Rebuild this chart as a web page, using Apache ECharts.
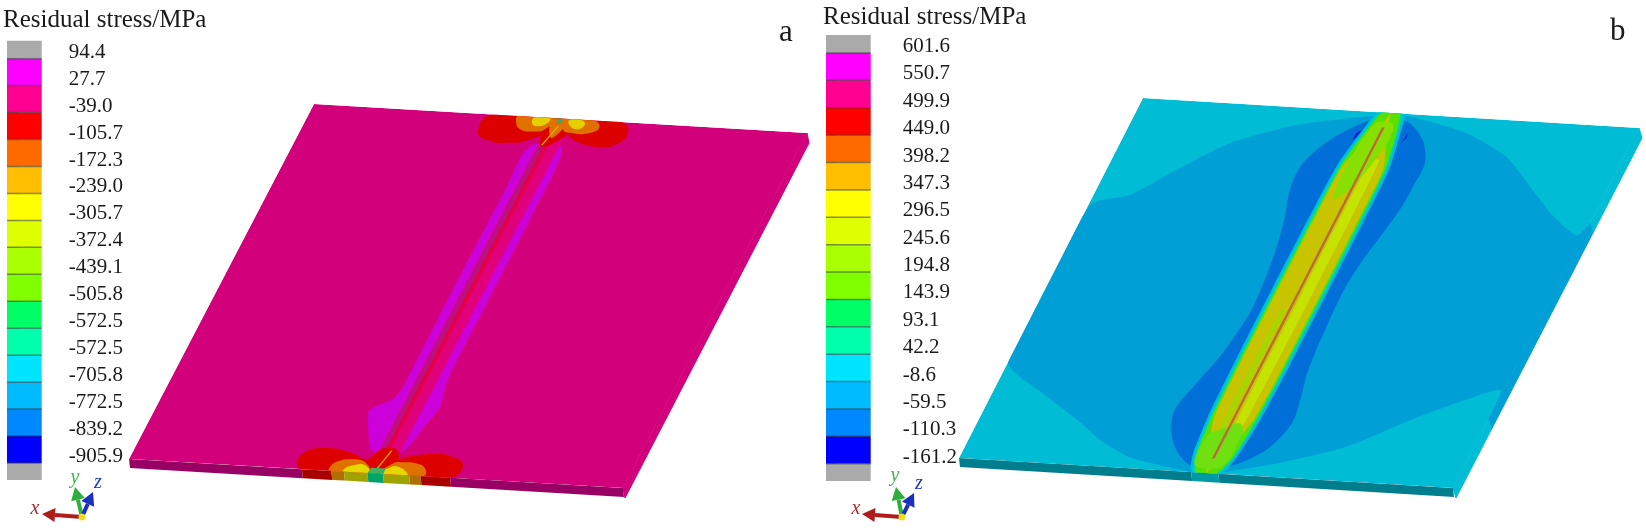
<!DOCTYPE html>
<html>
<head>
<meta charset="utf-8">
<title>Residual stress</title>
<script src="https://cdn.jsdelivr.net/npm/echarts@6/dist/echarts.min.js"></script>
<style>
html, body { margin: 0; padding: 0; background: #fff; }
#main { width: 1646px; height: 532px; }
</style>
</head>
<body>
<div id="main"></div>
<script>
// colour bar values, top to bottom
var ticksA = ['94.4', '27.7', '-39.0', '-105.7', '-172.3', '-239.0', '-305.7', '-372.4', '-439.1', '-505.8', '-572.5', '-572.5', '-705.8', '-772.5', '-839.2', '-905.9'];
var ticksB = ['601.6', '550.7', '499.9', '449.0', '398.2', '347.3', '296.5', '245.6', '194.8', '143.9', '93.1', '42.2', '-8.6', '-59.5', '-110.3', '-161.2'];
var bandEdges = [-0.66, 0, 1, 2, 3, 4, 5, 6, 7, 8, 9, 10, 11, 12, 13, 14, 15, 15.63];
var bandColors = ['#aaaaaa', '#ff00ff', '#ff0090', '#ff0000', '#ff6a00', '#ffbe00', '#ffff00', '#ddff00', '#aaff00', '#80ff00', '#00ff66', '#00ffaa', '#00e5ff', '#00bbff', '#0088ff', '#0000ff', '#aaaaaa'];

// contour outlines in plate coordinates: [u, v], u -1..1 across the weld, v 0..1 along it
var sheetFace = [[-1, 0], [1, 0], [1, 1], [-1, 1]];

// plate a
var magentaA = [[-0.065, 0.08], [-0.072, 0.2], [-0.074, 0.5], [-0.072, 0.7], [-0.08, 0.788], [-0.154, 0.827], [-0.135, 0.863], [-0.056, 0.941], [0.058, 0.937], [0.097, 0.854], [0.116, 0.808], [0.09, 0.733], [0.088, 0.5], [0.085, 0.25], [0.065, 0.08]];
var weldOuterA = [[-0.036, 0.05], [-0.034, 0.94], [0.052, 0.94], [0.052, 0.05]];
var weldDarkA = [[-0.032, 0.05], [-0.03, 0.94], [-0.008, 0.94], [-0.008, 0.05]];
var weldLineA = [[-0.01, 0.05], [-0.01, 0.94], [0.008, 0.94], [0.008, 0.05]];
var redTopLeftA = [[-0.28, 0], [-0.297, 0.05], [-0.231, 0.073], [-0.157, 0.075], [-0.094, 0.067], [-0.039, 0.043], [0, 0]];
var redTopMidA = [[-0.05, 0], [-0.045, 0.05], [-0.02, 0.08], [0.02, 0.07], [0.06, 0.04], [0.06, 0]];
var redTopRightA = [[0.04, 0], [0.056, 0.039], [0.127, 0.064], [0.202, 0.072], [0.269, 0.064], [0.296, 0.029], [0.25, 0]];
var orangeTopLeftA = [[-0.17, 0], [-0.168, 0.016], [-0.137, 0.036], [-0.08, 0.04], [-0.039, 0.032], [-0.02, 0]];
var orangeTopMidA = [[-0.03, 0], [-0.02, 0.035], [0.005, 0.055], [0.03, 0.03], [0.03, 0]];
var orangeTopRightA = [[0.02, 0], [0.033, 0.03], [0.08, 0.038], [0.146, 0.035], [0.171, 0.018], [0.137, 0]];
var yellowTopLeftA = [[-0.105, 0.002], [-0.098, 0.02], [-0.065, 0.024], [-0.04, 0.012], [-0.04, 0.002]];
var yellowTopRightA = [[0.04, 0.002], [0.047, 0.016], [0.086, 0.027], [0.109, 0.014], [0.09, 0.002]];
var greenTopA = [[-0.012, 0], [-0.004, 0.012], [0.008, 0.012], [0.012, 0]];
var streakTopA = [[0.004, 0.02], [-0.022, 0.075], [-0.016, 0.075], [0.01, 0.02]];
var redBotLeftA = [[-0.296, 1], [-0.335, 0.981], [-0.323, 0.953], [-0.261, 0.939], [-0.168, 0.943], [-0.087, 0.96], [-0.055, 0.969], [-0.02, 1]];
var redBotMidA = [[-0.06, 1], [-0.055, 0.955], [-0.02, 0.93], [0.03, 0.93], [0.06, 0.955], [0.07, 1]];
var redBotRightA = [[0.03, 1], [0.059, 0.96], [0.172, 0.938], [0.255, 0.94], [0.325, 0.963], [0.299, 1]];
var orangeBotLeftA = [[-0.19, 1], [-0.194, 0.99], [-0.179, 0.974], [-0.118, 0.965], [-0.058, 0.974], [-0.03, 1]];
var orangeBotRightA = [[0.02, 1], [0.047, 0.969], [0.084, 0.965], [0.139, 0.966], [0.182, 0.978], [0.192, 1]];
var yellowBotLeftA = [[-0.135, 1], [-0.135, 0.994], [-0.117, 0.984], [-0.06, 0.979], [-0.03, 1]];
var yellowBotRightA = [[0.02, 1], [0.047, 0.98], [0.073, 0.978], [0.12, 0.993], [0.125, 1]];
var greenBotA = [[-0.035, 1], [-0.03, 0.985], [0.028, 0.985], [0.03, 1]];
var streakBotA = [[-0.008, 0.985], [0.012, 0.935], [0.018, 0.935], [-0.002, 0.985]];
var frontStopsA = [-1, -0.3, -0.181, -0.13, -0.035, 0.028, 0.134, 0.18, 0.3, 1];
var frontColorsA = ['#980064', '#a80000', '#b07000', '#a0a400', '#00a468', '#a0a400', '#b07000', '#a80000', '#980064'];
var rightStopsA = [0, 1];
var rightColorsA = ['#d2007a'];

// plate b
var midZoneB = [[-0.993, 0.297], [-0.857, 0.2635], [-0.715, 0.182], [-0.57, 0.107], [-0.344, 0.047], [-0.064, 0.011], [0.069, 0.0055], [0.337, 0.042], [0.542, 0.1], [0.709, 0.184], [0.838, 0.249], [0.975, 0.3], [1, 0.265], [1, 0.727], [1, 0.81], [0.988, 0.728], [0.848, 0.768], [0.721, 0.814], [0.496, 0.907], [0.266, 0.961], [0.061, 0.995], [-0.06, 0.999], [-0.143, 0.992], [-0.333, 0.97], [-0.484, 0.928], [-0.598, 0.883], [-0.789, 0.816], [-1, 0.733]];
var darkZoneB = [[-0.056, 0.022], [-0.138, 0.053], [-0.21, 0.104], [-0.248, 0.16], [-0.241, 0.224], [-0.207, 0.297], [-0.178, 0.38], [-0.159, 0.47], [-0.151, 0.562], [-0.177, 0.674], [-0.219, 0.76], [-0.251, 0.835], [-0.223, 0.89], [-0.163, 0.943], [-0.072, 0.983], [0.067, 0.981], [0.189, 0.928], [0.237, 0.851], [0.22, 0.78], [0.199, 0.725], [0.182, 0.632], [0.174, 0.457], [0.229, 0.26], [0.234, 0.195], [0.233, 0.129], [0.179, 0.068], [0.081, 0.021]];
var crescentLeftB = [[-0.078, 0.05], [-0.098, 0.06], [-0.095, 0.08], [-0.085, 0.065]];
var crescentRightB = [[0.105, 0.05], [0.112, 0.065], [0.098, 0.08], [0.104, 0.065]];
var weldStations = [0, 0.05, 0.15, 0.3, 0.5, 0.7, 0.85, 0.95, 1];
var cyanHalfB = [0.055, 0.076, 0.106, 0.111, 0.112, 0.111, 0.106, 0.09, 0.06];
var tealHalfB = [0.045, 0.066, 0.097, 0.102, 0.103, 0.102, 0.097, 0.081, 0.05];
var greenHalfB = [0.035, 0.06, 0.09, 0.095, 0.096, 0.095, 0.09, 0.075, 0.04];
var oliveHalfB = [0, 0.02, 0.082, 0.088, 0.089, 0.088, 0.08, 0.03, 0];
var greenEndTopB = [[-0.04, 0.03], [-0.07, 0.16], [-0.05, 0.24], [0, 0.2], [0.045, 0.08], [0.03, 0.03]];
var greenEndBotB = [[-0.06, 0.98], [-0.07, 0.9], [-0.03, 0.88], [0.03, 0.86], [0.06, 0.88], [0.05, 0.98]];
var limeRightB = [[0.016, 0.13], [0.014, 0.5], [0.018, 0.88], [0.05, 0.86], [0.056, 0.5], [0.05, 0.13]];
var limeLeftB = [[-0.036, 0.55], [-0.038, 0.9], [-0.016, 0.9], [-0.016, 0.55]];
var weldLineB = [[-0.006, 0.04], [-0.006, 0.96], [0.004, 0.96], [0.004, 0.04]];
var frontStopsB = [-1, -0.06, 0.05, 1];
var frontColorsB = ['#007e8e', '#009aa4', '#007e8e'];
var rightStopsB = [0, 0.265, 0.81, 1];
var rightColorsB = ['#00bcd4', '#009fd6', '#00bcd4'];

var plateA = { tl: [314, 104], tr: [807, 133], bl: [129, 459], br: [623, 488] };
var plateB = { tl: [1143, 98], tr: [1639, 128], bl: [959, 458], br: [1453, 488] };

// strip around the weld, from half widths at each station
function weldBand(halves) {
    var left = [], right = [];
    for (var i = 0; i < weldStations.length; i++) {
        left.push([-halves[i], weldStations[i]]);
        right.unshift([halves[i], weldStations[i]]);
    }
    return left.concat(right);
}

// front face of the sheet, one quad per colour stop
function frontFace(stops, colors, drop) {
    var out = [];
    for (var i = 0; i < colors.length; i++) {
        out.push({ pts: [[stops[i], 1], [stops[i + 1], 1]], color: colors[i], drop: drop });
    }
    return out;
}

// sliver down the right edge
function rightFace(stops, colors, drop) {
    var out = [];
    for (var i = 0; i < colors.length; i++) {
        out.push({ pts: [[1, stops[i]], [1, stops[i + 1]]], color: colors[i], drop: drop, seam: true });
    }
    return out;
}

var layersA = [{ pts: sheetFace, color: '#d2007a' }]
    .concat(rightFace(rightStopsA, rightColorsA, [2, 10]))
    .concat(frontFace(frontStopsA, frontColorsA, [1, 9]))
    .concat([
        { pts: magentaA, color: '#cc00d8', smooth: 0.3 },
        { pts: weldOuterA, color: '#e0007c' },
        { pts: weldDarkA, color: '#ba1080' },
        { pts: weldLineA, color: '#e40048' },
        { pts: redTopLeftA, color: '#dd0000', smooth: 0.5 },
        { pts: redTopRightA, color: '#dd0000', smooth: 0.5 },
        { pts: redTopMidA, color: '#dd0000', smooth: 0.3 },
        { pts: orangeTopLeftA, color: '#e07000', smooth: 0.5 },
        { pts: orangeTopRightA, color: '#e07000', smooth: 0.5 },
        { pts: orangeTopMidA, color: '#e07000', smooth: 0.3 },
        { pts: yellowTopLeftA, color: '#e4d000', smooth: 0.5 },
        { pts: yellowTopRightA, color: '#e4d000', smooth: 0.5 },
        { pts: streakTopA, color: '#e8b000' },
        { pts: greenTopA, color: '#20b080' },
        { pts: redBotLeftA, color: '#dd0000', smooth: 0.5 },
        { pts: redBotRightA, color: '#dd0000', smooth: 0.5 },
        { pts: redBotMidA, color: '#dd0000', smooth: 0.3 },
        { pts: orangeBotLeftA, color: '#e07000', smooth: 0.5 },
        { pts: orangeBotRightA, color: '#e07000', smooth: 0.5 },
        { pts: yellowBotLeftA, color: '#e4d800', smooth: 0.5 },
        { pts: yellowBotRightA, color: '#e4d800', smooth: 0.5 },
        { pts: streakBotA, color: '#e8a000' },
        { pts: greenBotA, color: '#40b060' }
    ]);

var layersB = [{ pts: sheetFace, color: '#00bcd4' }]
    .concat(rightFace(rightStopsB, rightColorsB, [3, 10]))
    .concat(frontFace(frontStopsB, frontColorsB, [1, 9]))
    .concat([
        { pts: midZoneB, color: '#009fd6', smooth: 0.2 },
        { pts: darkZoneB, color: '#0070d8', smooth: 0.3 },
        { pts: weldBand(cyanHalfB), color: '#00bcdc', smooth: 0.2 },
        { pts: weldBand(tealHalfB), color: '#00d8a8', smooth: 0.2 },
        { pts: weldBand(greenHalfB), color: '#58e000', smooth: 0.2 },
        { pts: weldBand(oliveHalfB), color: '#c8c400', smooth: 0.2 },
        { pts: limeRightB, color: '#c4e400', smooth: 0.2 },
        { pts: limeLeftB, color: '#a8d400', smooth: 0.2 },
        { pts: greenEndTopB, color: '#88e000', smooth: 0.3 },
        { pts: greenEndBotB, color: '#70e010', smooth: 0.3 },
        { pts: weldLineB, color: '#b86a3a' },
        { pts: crescentLeftB, color: '#0020d0' },
        { pts: crescentRightB, color: '#0020d0' }
    ]);

// grid pixels -> oblique view of the sheet
function plateRender(corners, layers) {
    return function (params, api) {
        var row = layers[api.value(0)];
        var cs = params.coordSys;
        var project = function (p) {
            var c = api.coord(p);
            var s = (c[0] - cs.x) / cs.width, t = (c[1] - cs.y) / cs.height;
            return [
                corners.tl[0] * (1 - s) * (1 - t) + corners.tr[0] * s * (1 - t) + corners.bl[0] * (1 - s) * t + corners.br[0] * s * t,
                corners.tl[1] * (1 - s) * (1 - t) + corners.tr[1] * s * (1 - t) + corners.bl[1] * (1 - s) * t + corners.br[1] * s * t
            ];
        };
        var points = row.pts.map(project);
        if (row.drop) {
            var a = points[0], b = points[1];
            points = [a, b, [b[0] + row.drop[0], b[1] + row.drop[1]], [a[0] + row.drop[0], a[1] + row.drop[1]]];
            return {
                type: 'polygon',
                shape: { points: points },
                style: { fill: row.color, stroke: row.seam ? row.color : null, lineWidth: 1 }
            };
        }
        return {
            type: 'polygon',
            shape: { points: points, smooth: row.smooth || 0 },
            clipPath: { type: 'polygon', shape: { points: sheetFace.map(project) } },
            style: { fill: row.color }
        };
    };
}

function barRender(params, api) {
    var lo = api.coord([0, api.value(0)]);
    var hi = api.coord([1, api.value(1)]);
    var children = [{
        type: 'rect',
        shape: { x: lo[0], y: lo[1], width: hi[0] - lo[0], height: hi[1] - lo[1] },
        style: { fill: bandColors[params.dataIndex] }
    }];
    if (params.dataIndex > 0) {
        children.push({
            type: 'line',
            shape: { x1: lo[0], y1: lo[1], x2: hi[0], y2: lo[1] },
            style: { stroke: 'rgba(50,60,60,0.55)', lineWidth: 1.5 }
        });
    }
    return { type: 'group', children: children };
}

function barData() {
    var rows = [];
    for (var i = 0; i < bandColors.length; i++) {
        rows.push([bandEdges[i], bandEdges[i + 1]]);
    }
    return rows;
}

function barAxis(gridIndex, labels, margin) {
    var positions = labels.map(function (v, i) { return i; });
    return {
        gridIndex: gridIndex,
        type: 'value',
        position: 'right',
        inverse: true,
        min: -1,
        max: 16,
        axisLine: { show: false },
        splitLine: { show: false },
        axisTick: { show: true, length: 11, customValues: positions, lineStyle: { color: '#8a9096', width: 1.5 } },
        axisLabel: {
            customValues: positions,
            margin: margin,
            color: '#1a1a1a',
            fontFamily: 'Liberation Serif',
            fontSize: 21,
            align: 'left',
            verticalAlign: 'bottom',
            lineHeight: 13,
            formatter: function (value) { return labels[value]; }
        }
    };
}

function hiddenAxis(gridIndex, min, max, inverse) {
    return { gridIndex: gridIndex, type: 'value', min: min, max: max, inverse: inverse, show: false };
}

// x, y, z triad in the corner of each panel
function triad(o, xTip, yTip, zTip, xText, yText, zText) {
    var items = [];
    var arm = function (tip, color) {
        var dx = tip[0] - o[0], dy = tip[1] - o[1], len = Math.sqrt(dx * dx + dy * dy);
        var ux = dx / len, uy = dy / len, bx = tip[0] - ux * 13, by = tip[1] - uy * 13;
        items.push({ type: 'line', shape: { x1: o[0], y1: o[1], x2: bx, y2: by }, style: { stroke: color, lineWidth: 4 } });
        items.push({ type: 'polygon', shape: { points: [tip, [bx - uy * 7, by + ux * 7], [bx + uy * 7, by - ux * 7]] }, style: { fill: color } });
    };
    var label = function (text, pos, color) {
        items.push({ type: 'text', x: pos[0], y: pos[1], style: { text: text, fill: color, font: 'italic 20px "Liberation Serif"', textAlign: 'center', textVerticalAlign: 'middle' } });
    };
    arm(xTip, '#b01c1c');
    arm(yTip, '#2fae3c');
    arm(zTip, '#1c30c0');
    items.push({ type: 'circle', shape: { cx: o[0], cy: o[1], r: 3.5 }, style: { fill: '#e8e020' } });
    label('x', xText, '#b02c2c');
    label('y', yText, '#3cb44b');
    label('z', zText, '#2238c0');
    return items;
}

function headText(text, left, top, size) {
    return { text: text, left: left, top: top, padding: 0, textStyle: { color: '#1a1a1a', fontFamily: 'Liberation Serif', fontWeight: 'normal', fontSize: size } };
}

var option = {
    animation: false,
    backgroundColor: '#fff',
    title: [
        headText('Residual stress/MPa', 3, 8, 25),
        headText('Residual stress/MPa', 823, 5, 25),
        headText('a', 779, 17, 31),
        headText('b', 1610, 16, 31)
    ],
    grid: [
        { left: 7, top: 31.7, width: 34.7, height: 458.3 },
        { left: 826, top: 25.6, width: 44.7, height: 465.5 },
        { left: 129, top: 104, width: 493, height: 355 },
        { left: 959, top: 98, width: 494, height: 360 }
    ],
    xAxis: [hiddenAxis(0, 0, 1, false), hiddenAxis(1, 0, 1, false), hiddenAxis(2, -1, 1, false), hiddenAxis(3, -1, 1, false)],
    yAxis: [barAxis(0, ticksA, 27), barAxis(1, ticksB, 32), hiddenAxis(2, 0, 1, true), hiddenAxis(3, 0, 1, true)],
    series: [
        { type: 'custom', xAxisIndex: 2, yAxisIndex: 2, clip: false, silent: true, renderItem: plateRender(plateA, layersA), data: layersA.map(function (l, i) { return [i]; }) },
        { type: 'custom', xAxisIndex: 3, yAxisIndex: 3, clip: false, silent: true, renderItem: plateRender(plateB, layersB), data: layersB.map(function (l, i) { return [i]; }) },
        { type: 'custom', xAxisIndex: 0, yAxisIndex: 0, clip: false, silent: true, renderItem: barRender, data: barData() },
        { type: 'custom', xAxisIndex: 1, yAxisIndex: 1, clip: false, silent: true, renderItem: barRender, data: barData() }
    ],
    graphic: triad([82, 517], [42, 514], [75, 487], [93, 492], [35, 509], [75, 478], [98, 483])
        .concat(triad([902, 517], [862, 514], [896, 487], [914, 493], [856, 509], [895, 476], [919, 484]))
};

var myChart = echarts.init(document.getElementById('main'));
myChart.setOption(option);
</script>
</body>
</html>
